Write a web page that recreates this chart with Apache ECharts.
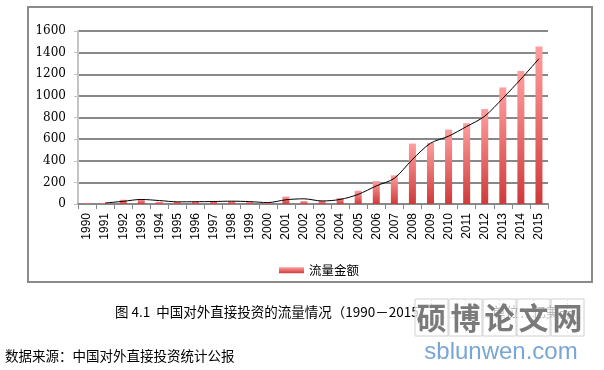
<!DOCTYPE html>
<html><head><meta charset="utf-8">
<script src="https://cdn.jsdelivr.net/npm/echarts@6/dist/echarts.min.js"></script>
<style>html,body{margin:0;padding:0;background:#fff}#c{width:604px;height:370px}</style>
</head><body><div id="c"></div>
<script>
var years = ['1990','1991','1992','1993','1994','1995','1996','1997','1998','1999','2000','2001','2002','2003','2004','2005','2006','2007','2008','2009','2010','2011','2012','2013','2014','2015'];
var flowValues = [8, 9, 40, 44, 20, 20, 21, 26, 26, 18, 9, 69, 27, 29, 55, 123, 212, 265, 559, 565, 688, 747, 878, 1078, 1231, 1457];
var trendValues = [null, 9, 25, 42, 32, 20, 21, 23, 26, 22, 13, 39, 48, 28, 42, 89, 167, 238, 412, 562, 627, 717, 812, 978, 1155, 1344];
var yTicks = [0, 200, 400, 600, 800, 1000, 1200, 1400, 1600];
var seriesName = '流量金额';
var captionText = '图 4.1  中国对外直接投资的流量情况（1990－2015）';
var unitText = '单位：亿美元';
var sourceText = '数据来源：中国对外直接投资统计公报';
var watermarkChars = ['硕','博','论','文','网'];
var watermarkUrl = 'sblunwen.com';

var chart = echarts.init(document.getElementById('c'), null, {renderer:'canvas'});
var cjk = '"Noto Sans CJK SC", sans-serif';
var wmGraphics = [];
watermarkChars.forEach(function(ch, i){
  var x0 = 415 + i*34;
  wmGraphics.push({type:'rect', shape:{x:x0, y:299, width:33, height:37}, style:{fill:'rgba(255,255,255,0.75)', stroke:'#d0d0d0', lineWidth:1}, z:100});
  wmGraphics.push({type:'line', shape:{x1:x0+16.5, y1:299, x2:x0+16.5, y2:336}, style:{stroke:'#e4e4e4', lineWidth:1, lineDash:[2,2]}, z:100});
  wmGraphics.push({type:'line', shape:{x1:x0, y1:317.5, x2:x0+33, y2:317.5}, style:{stroke:'#e4e4e4', lineWidth:1, lineDash:[2,2]}, z:100});
  wmGraphics.push({type:'text', x:x0+16.5, y:317.5, style:{text:ch, font:'bold 30px ' + cjk, fill:'#7a7a7a', align:'center', verticalAlign:'middle'}, z:101});
});
wmGraphics.push({type:'text', x:501, y:352, style:{text:watermarkUrl, font:'24px "Liberation Sans", sans-serif', fill:'#7aa6d6', align:'center', verticalAlign:'middle'}, z:101});

var option = {
  animation:false,
  backgroundColor:'#fff',
  grid:{left:78, right:56, top:31, bottom:166, containLabel:false},
  legend:{data:[seriesName], left:274, top:259, itemWidth:25, itemHeight:6, icon:'rect',
    textStyle:{fontSize:12.5, color:'#000', fontFamily:cjk}},
  xAxis:{type:'category', data:years, boundaryGap:true,
    axisLine:{lineStyle:{color:'#888', width:2}},
    axisTick:{show:true, alignWithLabel:false, length:5, lineStyle:{color:'#888'}},
    axisLabel:{rotate:90, interval:0, fontSize:12, color:'#000', margin:9, fontFamily:'"Liberation Sans", sans-serif'}},
  yAxis:{type:'value', min:0, max:1600, interval:200,
    axisLine:{show:true, lineStyle:{color:'#c4c4c4', width:2}},
    axisTick:{show:true, length:4, lineStyle:{color:'#c4c4c4'}},
    splitLine:{lineStyle:{color:'#888', width:2}},
    axisLabel:{fontSize:12, color:'#000', margin:12, fontFamily:'"DejaVu Serif", serif',
      formatter:function(v){ return yTicks.indexOf(v) >= 0 ? String(v) : ''; }}},
  series:[
    {name:seriesName, type:'bar', data:flowValues, barWidth:7,
      itemStyle:{color:new echarts.graphic.LinearGradient(0,0,0,1,[{offset:0,color:'#ff9e9e'},{offset:1,color:'#cf3a3a'}])}},
    {name:'trend', type:'line', data:trendValues, smooth:0.3, showSymbol:false, symbol:'none',
      lineStyle:{color:'#000', width:1}, itemStyle:{color:'#000'}, z:5}
  ],
  graphic:[
    {type:'rect', shape:{x:28, y:7, width:564, height:275}, style:{fill:'none', stroke:'#8a8a8a', lineWidth:2}, z:-1},
    {type:'text', x:115, y:312, style:{text:captionText, font:'13.5px ' + cjk, fill:'#000', verticalAlign:'middle'}},
    {type:'text', x:492, y:312, style:{text:unitText, font:'13.5px ' + cjk, fill:'#000', verticalAlign:'middle'}},
    {type:'text', x:5, y:356, style:{text:sourceText, font:'13.5px ' + cjk, fill:'#000', verticalAlign:'middle'}}
  ].concat(wmGraphics)
};
chart.setOption(option);
</script></body></html>
